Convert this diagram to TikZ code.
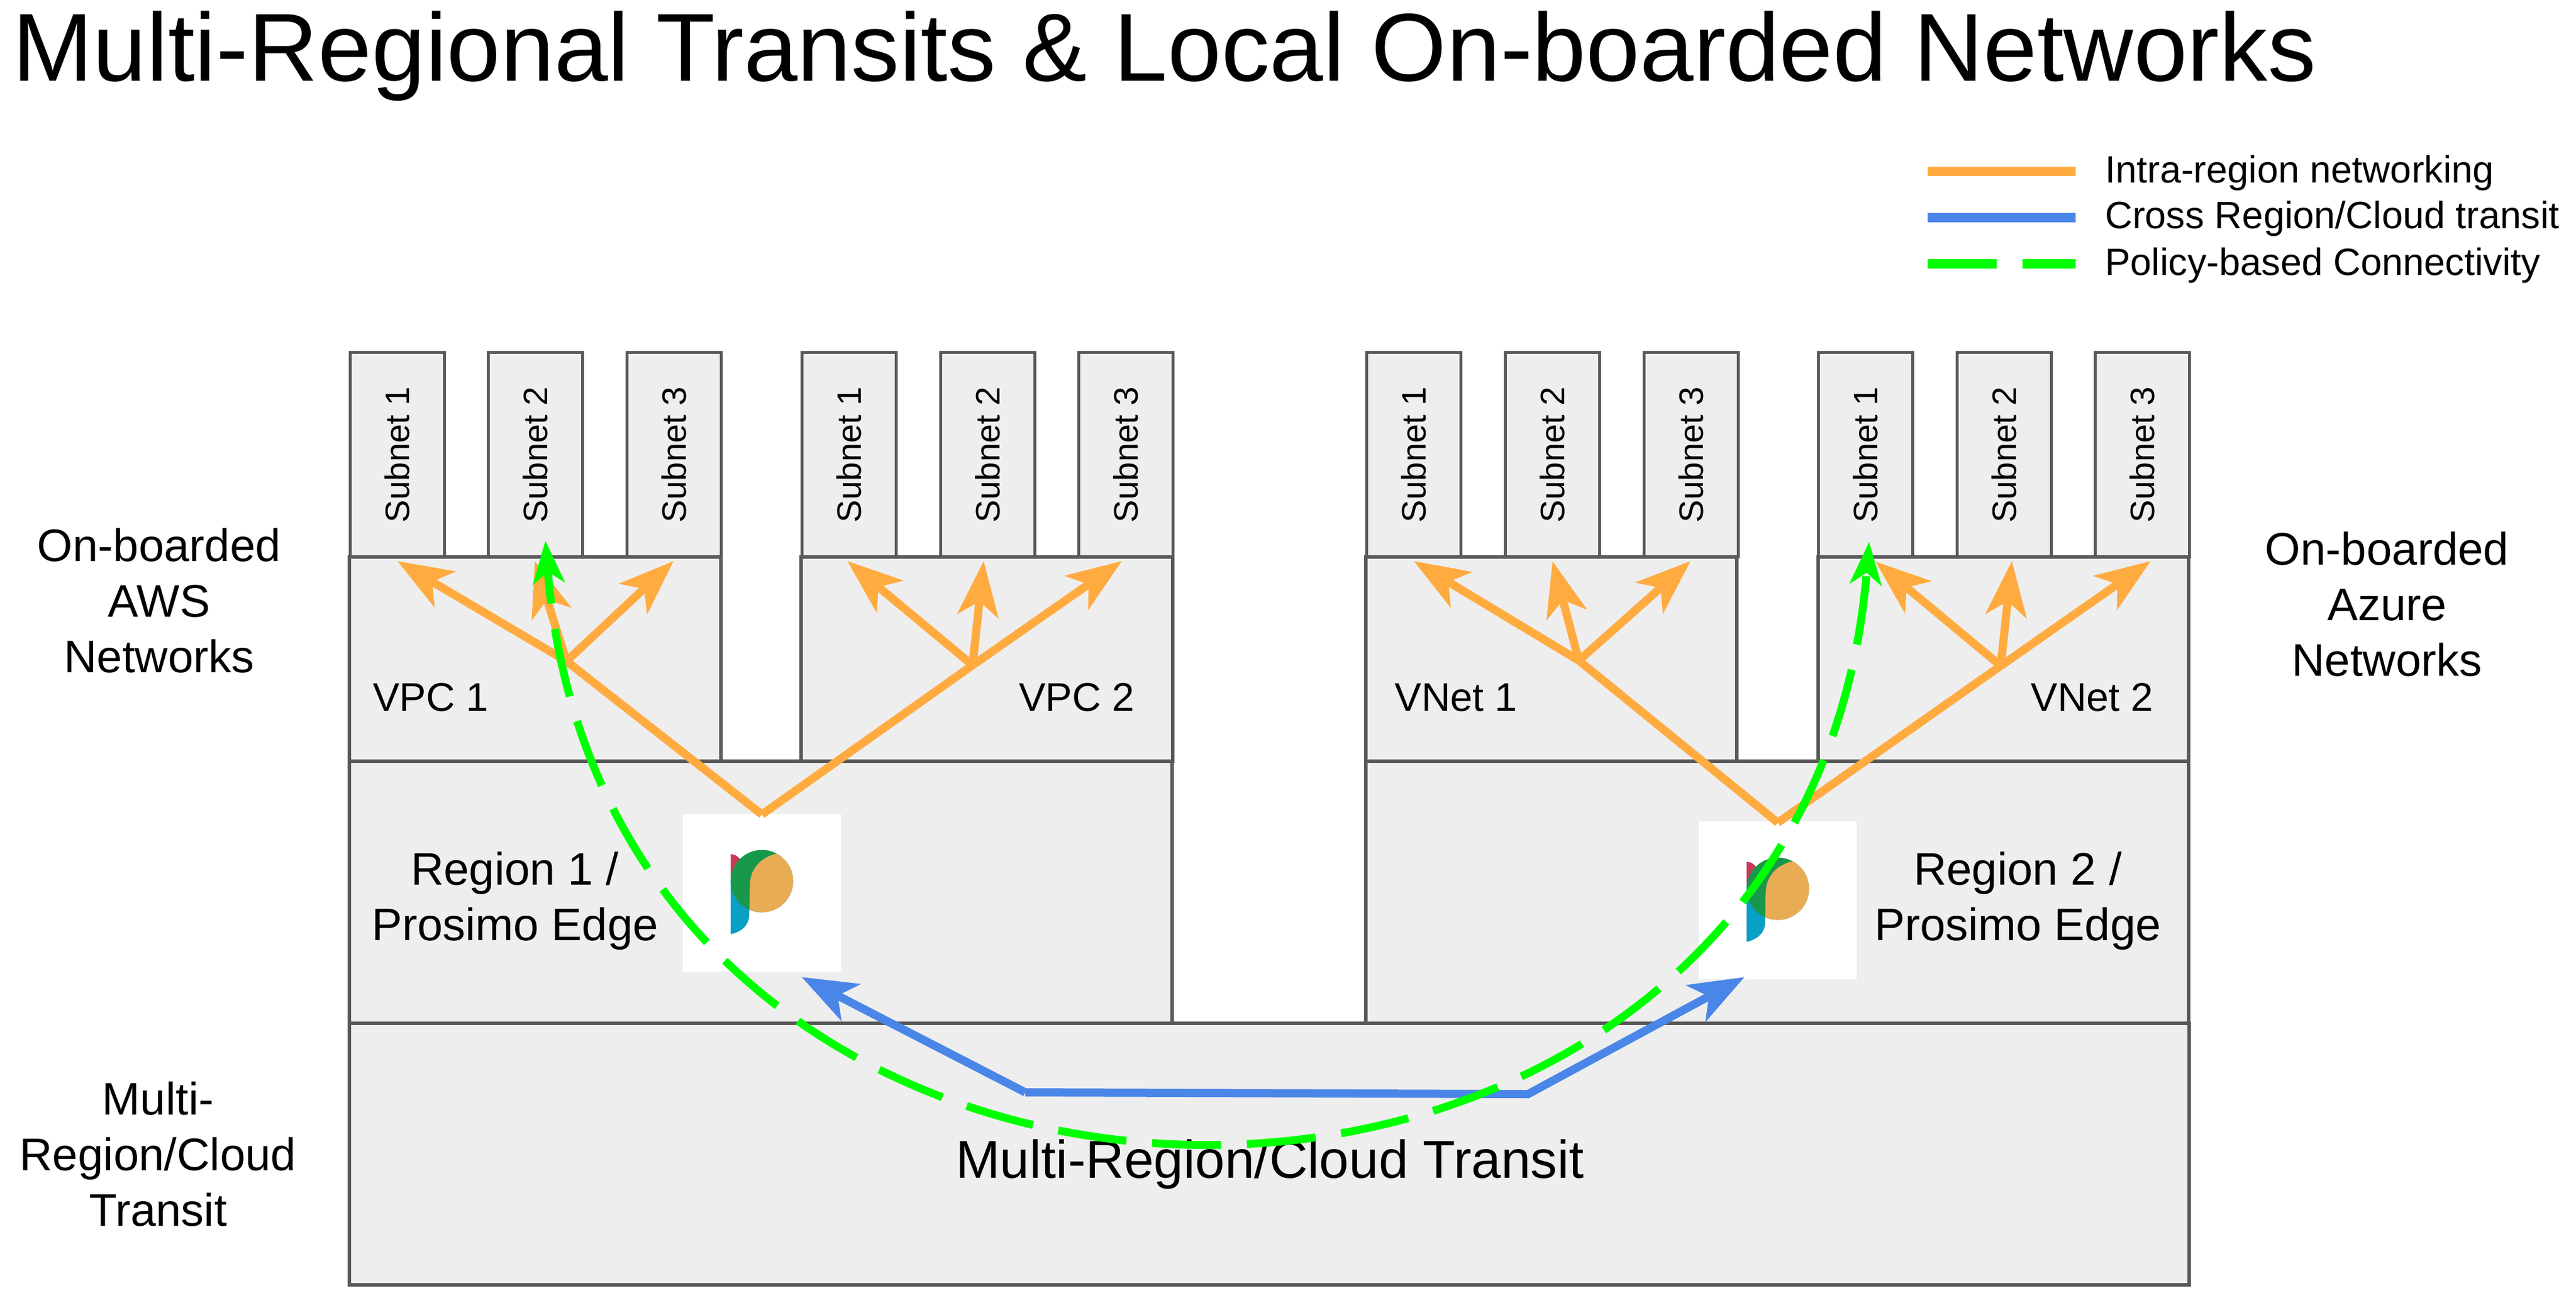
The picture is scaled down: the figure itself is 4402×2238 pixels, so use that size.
\documentclass[tikz,border=0pt]{standalone}
\usepackage{fontspec}
\setmainfont{Liberation Sans}
\usetikzlibrary{arrows.meta}
\definecolor{boxfill}{HTML}{EEEEEE}
\definecolor{boxline}{HTML}{595959}
\definecolor{orangeline}{HTML}{FFAB40}
\definecolor{blueline}{HTML}{4A86E8}
\definecolor{greenline}{HTML}{00FF00}
\definecolor{logored}{HTML}{C93A57}
\definecolor{logoblue}{HTML}{09A0C6}
\definecolor{logogreen}{HTML}{18984B}
\definecolor{logoorange}{HTML}{E8AC55}
\tikzset{
  x=1pt,y=-1pt,
  boxnode/.style={draw=boxline,fill=boxfill,line width=5.5pt,inner sep=0pt,outer sep=0pt,anchor=north west},
  subnetbox/.style={draw=boxline,fill=boxfill,line width=5.5pt,inner sep=0pt,outer sep=0pt,rotate=90,minimum width=349pt,minimum height=161pt,font=\fontsize{58}{68}\selectfont},
  vpclabel/.style={inner sep=0pt,anchor=base,font=\fontsize{68.5}{80}\selectfont},
  midlabel/.style={inner sep=0pt,align=center,font=\fontsize{78}{95}\selectfont},
  legendlabel/.style={inner sep=0pt,anchor=base west,font=\fontsize{65}{78}\selectfont},
  orangeconn/.style={draw=orangeline,line width=14pt},
  orangearrow/.style={orangeconn,-{Stealth[length=94pt,width=70pt,inset=25pt]}},
  bluearrow/.style={draw=blueline,line width=14pt,line join=miter,-{Stealth[length=94pt,width=70pt,inset=25pt]}},
  greenarrow/.style={draw=greenline,line width=13.5pt,dash pattern=on 118pt off 44pt,dash phase=58pt,{Stealth[length=73pt,width=54pt,inset=20pt]}-{Stealth[length=73pt,width=54pt,inset=20pt]}},
  legendline/.style={line width=16pt},
  whitebox/.style={fill=white,inner sep=0pt,minimum width=270pt,minimum height=270pt},
}
\newcommand{\prosimologo}[2]{%
  \begin{scope}[shift={(#1,#2)},x=0.3333pt,y=-0.3333pt]
    \fill[logoblue] (-160,-20) -- (-160,272) .. controls (-110,262) and (-65,230) .. (-65,170) -- (-65,0) -- cycle;
    \fill[logored] (-160,-138) .. controls (-140,-138) and (-125,-130) .. (-112,-112) -- (-160,-20) -- cycle;
    \fill[logogreen] (0,0) circle (160);
    \begin{scope}
      \clip (80,-142) .. controls (0,-125) and (-60,-70) .. (-62,20) -- (-65,170) -- (200,200) -- (200,-200) -- cycle;
      \fill[logoorange] (0,0) circle (160);
    \end{scope}
  \end{scope}}
\begin{document}
\begin{tikzpicture}
\useasboundingbox[fill=white] (0,0) rectangle (4402,2238);
% large boxes
\node[boxnode,minimum width=3144pt,minimum height=447pt] (transit) at (597,1749) {};
\node[boxnode,minimum width=1406pt,minimum height=448pt] (region1) at (597,1301) {};
\node[boxnode,minimum width=1406pt,minimum height=448pt] (region2) at (2334,1301) {};
% subnets
\node[subnetbox] (s11) at (679,777) {Subnet 1\hspace{11pt}};
\node[subnetbox] (s12) at (915,777) {Subnet 2\hspace{11pt}};
\node[subnetbox] (s13) at (1152,777) {Subnet 3\hspace{11pt}};
\node[subnetbox] (s21) at (1451,777) {Subnet 1\hspace{11pt}};
\node[subnetbox] (s22) at (1688,777) {Subnet 2\hspace{11pt}};
\node[subnetbox] (s23) at (1924,777) {Subnet 3\hspace{11pt}};
\node[subnetbox] (s31) at (2416,777) {Subnet 1\hspace{11pt}};
\node[subnetbox] (s32) at (2653,777) {Subnet 2\hspace{11pt}};
\node[subnetbox] (s33) at (2890,777) {Subnet 3\hspace{11pt}};
\node[subnetbox] (s41) at (3188,777) {Subnet 1\hspace{11pt}};
\node[subnetbox] (s42) at (3425,777) {Subnet 2\hspace{11pt}};
\node[subnetbox] (s43) at (3661,777) {Subnet 3\hspace{11pt}};
% network boxes
\node[boxnode,minimum width=635pt,minimum height=349pt] (vpc1) at (597,952) {};
\node[boxnode,minimum width=635pt,minimum height=349pt] (vpc2) at (1369,952) {};
\node[boxnode,minimum width=634pt,minimum height=349pt] (vnet1) at (2334,952) {};
\node[boxnode,minimum width=633pt,minimum height=349pt] (vnet2) at (3107,952) {};
% title
\node[inner sep=0pt,anchor=base west,font=\fontsize{165}{195}\selectfont] (title) at (21,138) {Multi-Regional Transits \& Local On-boarded Networks};
% side labels
\node[midlabel] (aws) at (272,1027) {On-boarded\\AWS\\Networks};
\node[midlabel] (azure) at (4079,1033) {On-boarded\\Azure\\Networks};
\node[midlabel] (mrc) at (270,1973) {Multi-\\Region/Cloud\\Transit};
\node[midlabel] (r1label) at (880,1540) {Region 1 /\\Prosimo Edge};
\node[midlabel] (r2label) at (3448,1540) {Region 2 /\\Prosimo Edge};
\node[vpclabel] (vpc1label) at (736,1215) {VPC 1};
\node[vpclabel] (vpc2label) at (1840,1215) {VPC 2};
\node[vpclabel] (vnet1label) at (2488,1215) {VNet 1};
\node[vpclabel] (vnet2label) at (3575,1215) {VNet 2};
\node[inner sep=0pt,font=\fontsize{91}{110}\selectfont] (transitlabel) at (2170,1990) {Multi-Region/Cloud Transit};
% logos
\node[whitebox] (edge1) at (1302,1526) {};
\node[whitebox] (edge2) at (3038,1539) {};
\prosimologo{1302}{1506}
\prosimologo{3038}{1519}
% junctions
\coordinate (apex1) at (1302,1392);
\coordinate (apex2) at (3038,1406);
\coordinate (j1) at (968,1130);
\coordinate (j2) at (1662,1137);
\coordinate (j3) at (2698,1129);
\coordinate (j4) at (3419,1138);
\coordinate (t11) at (679,959);
\coordinate (t12) at (914,959);
\coordinate (t13) at (1151,959);
\coordinate (t21) at (1448,959);
\coordinate (t22) at (1681,959);
\coordinate (t23) at (1917,959);
\coordinate (t31) at (2416,959);
\coordinate (t32) at (2653,959);
\coordinate (t33) at (2889,959);
\coordinate (t41) at (3205,960);
\coordinate (t42) at (3438,959);
\coordinate (t43) at (3675,959);
% orange
\draw[orangeconn] (apex1) -- (j1);
\draw[orangeconn] (apex1) -- (j2);
\draw[orangeconn] (apex2) -- (j3);
\draw[orangeconn] (apex2) -- (j4);
\foreach \j/\a/\b/\c in {j1/t11/t12/t13,j2/t21/t22/t23,j3/t31/t32/t33,j4/t41/t42/t43}{
  \draw[orangearrow] (\j) -- (\a);
  \draw[orangearrow] (\j) -- (\b);
  \draw[orangearrow] (\j) -- (\c);
}
% blue
\coordinate (bstart) at (1370,1670);
\coordinate (b1) at (1752,1867);
\coordinate (b2) at (2611,1870);
\coordinate (bend) at (2981,1670);
\draw[bluearrow] (b1) -- (b2) -- (bend);
\draw[bluearrow] (b1) -- (bstart);
% green
\coordinate (gstart) at (932,924);
\coordinate (gend) at (3194,926);
\draw[greenarrow] (gstart) .. controls (1040,2285) and (3085,2285) .. (gend);
% legend
\coordinate (l1a) at (3294,293); \coordinate (l1b) at (3547,293);
\coordinate (l2a) at (3294,372); \coordinate (l2b) at (3547,372);
\coordinate (l3a) at (3294,451); \coordinate (l3b) at (3547,451);
\draw[legendline,draw=orangeline] (l1a) -- (l1b);
\draw[legendline,draw=blueline] (l2a) -- (l2b);
\draw[legendline,draw=greenline,dash pattern=on 118pt off 44pt] (l3a) -- (l3b);
\node[legendlabel] (leg1) at (3597,312) {Intra-region networking};
\node[legendlabel] (leg2) at (3597,390) {Cross Region/Cloud transit};
\node[legendlabel] (leg3) at (3597,470) {Policy-based Connectivity};
\end{tikzpicture}
\end{document}
